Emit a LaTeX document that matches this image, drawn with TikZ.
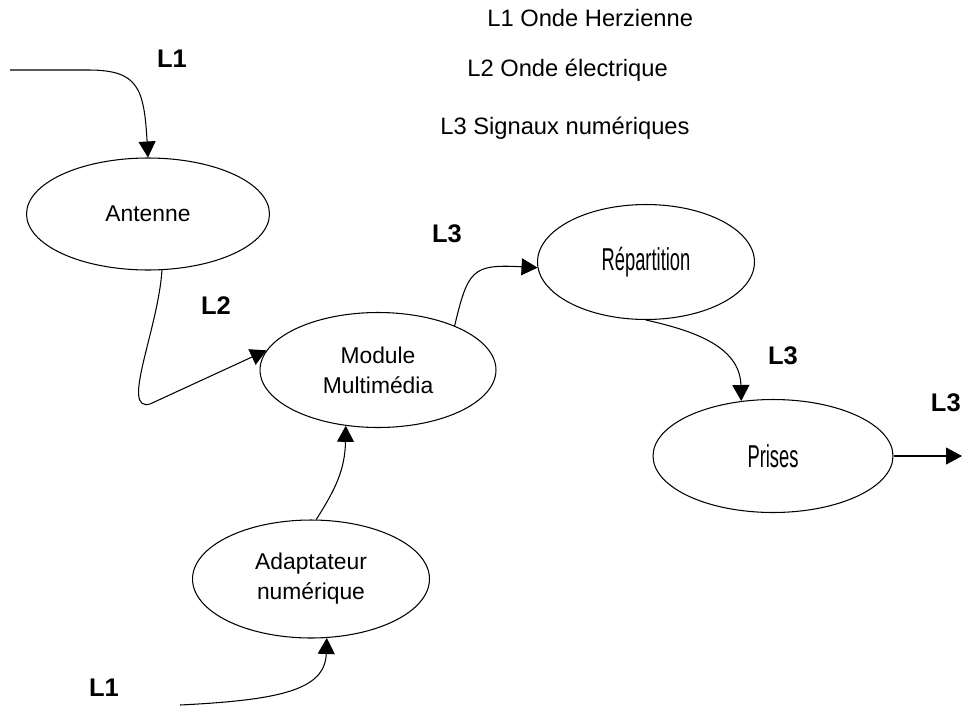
\documentclass[tikz,border=0pt]{standalone}
\usepackage{fontspec}
\setmainfont{Liberation Sans}
\newfontfamily\narrowfont[FakeStretch=0.58]{Liberation Sans}
\usetikzlibrary{shapes.geometric,arrows.meta}

\begin{document}
\begin{tikzpicture}[
    x=0.02cm, y=-0.02cm,
    bloc/.style={ellipse, draw, line width=0.6pt, inner sep=0pt, align=center, font=\fontsize{13}{17}\selectfont},
    etroit/.style={bloc, font=\narrowfont\fontsize{18}{20}\selectfont},
    flux/.style={-{Triangle[length=0.32cm, width=0.34cm]}, line width=0.6pt},
    lien/.style={inner sep=0pt, font=\bfseries\fontsize{14.5}{16}\selectfont},
    legende/.style={anchor=west, inner sep=0pt, font=\fontsize{13.5}{16}\selectfont},
]
\useasboundingbox (0,0) rectangle (962,706);

% ---- blocs ----
\node[bloc, minimum width=4.86cm, minimum height=2.24cm] (ant) at (148,214) {Antenne};
\node[bloc, minimum width=4.72cm, minimum height=2.30cm] (mod) at (378,370) {Module\\Multimédia};
\node[etroit, minimum width=4.34cm, minimum height=2.30cm] (rep) at (646,262) {Répartition};
\node[etroit, minimum width=4.80cm, minimum height=2.26cm] (pri) at (773,456) {Prises};
\node[bloc, minimum width=4.74cm, minimum height=2.36cm] (ada) at (311,579) {Adaptateur\\numérique};

% ---- entrees / sortie ----
\coordinate (e1) at (10,70);
\coordinate (e2) at (180,705);
\coordinate (s1) at (962,456);

% ---- liaisons ----
\draw[flux] (e1) -- ++(78,0) .. controls +(50,0) and +(-4,-70) .. (ant.north);
\draw[flux] (ant.-76) .. controls (158,330) and (120,412) .. (150,404) -- (mod.170);
\draw[flux] (mod.30) .. controls (468,270) and (472,264) .. (rep.183);
\draw[flux] (rep.south) .. controls (690,330) and (740,345) .. (pri.120);
\draw[flux] (pri.east) -- (s1);
\draw[flux] (ada.85) .. controls (335,490) and (345,470) .. (mod.-120);
\draw[flux] (e2) .. controls (280,700) and (325,690) .. (ada.-75);

% ---- etiquettes ----
\node[lien] (l1a) at (172,59) {L1};
\node[lien] (l2) at (216,306) {L2};
\node[lien] (l3a) at (447,234) {L3};
\node[lien] (l3b) at (783,356) {L3};
\node[lien, anchor=east] (l3c) at (961,403) {L3};
\node[lien] (l1b) at (104,688) {L1};

% ---- legende ----
\node[legende] (leg1) at (487,18) {L1 Onde Herzienne};
\node[legende] (leg2) at (467,70) {L2 Onde électrique};
\node[legende] (leg3) at (440,128) {L3 Signaux numériques};

\end{tikzpicture}
\end{document}
